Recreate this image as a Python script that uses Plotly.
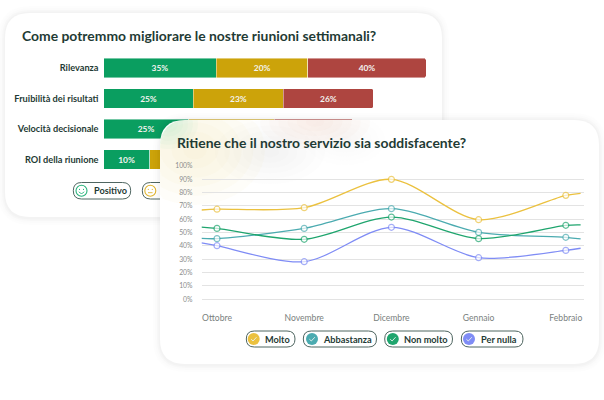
import numpy as np
import plotly.graph_objects as go

W, H = 604, 400

# ---- data: stacked bars (lengths; labels as printed)
questions = ["Rilevanza", "Fruibilità dei risultati", "Velocità decisionale", "ROI della riunione"]
positivo = [35.0, 27.9, 26.4, 14.3]
neutro = [28.4, 27.9, 26.6, 25.0]
negativo = [36.6, 27.9, 24.5, 30.0]
positivo_lab = ["35%", "25%", "25%", "10%"]
neutro_lab = ["20%", "23%", "", ""]
negativo_lab = ["40%", "26%", "", ""]

# ---- data: lines
months = ["Ottobre", "Novembre", "Dicembre", "Gennaio", "Febbraio"]
month_pos = [0, 1, 2, 3, 4]
edge_pos = [-0.178, 0, 1, 2, 3, 4, 4.17]
molto = [67.0, 67.6, 68.7, 90.0, 59.7, 78.0, 79.5]
abbastanza = [45.7, 45.5, 53.2, 68.0, 50.2, 46.5, 45.3]
non_molto = [54.2, 53.2, 45.0, 61.7, 45.5, 55.5, 55.8]
per_nulla = [42.3, 40.2, 28.2, 54.0, 31.2, 36.7, 38.3]
y_ticks = [0, 10, 20, 30, 40, 50, 60, 70, 80, 90, 100]

GREEN, YEL, RED = "#0A9E60", "#CCA30A", "#AE4540"
C_MOLTO, C_ABB, C_NON, C_PER = "#EBC13F", "#4BABB0", "#1FA56E", "#7F8CF5"
DARK = "#1F3B35"
FONT = "Lato"

# subplot frames in pixels
A = dict(x0=103.5, x1=426.0, y0=52.75, y1=174.75)
B = dict(x0=201.5, x1=584.0, y0=166.0, y1=299.3)


def dom(frame):
    return dict(
        x=[frame["x0"] / W, frame["x1"] / W],
        y=[1 - frame["y1"] / H, 1 - frame["y0"] / H],
    )


shapes = []

# layer "paper": below everything (card 1). layer "cover": pixel-scaled subplot x2/y2,
# stacked above the bars and below the line chart (card 2).
PAPER, COVER = "paper", "cover"


def cx_(layer, v):
    return v / W if layer == PAPER else v


def cy_(layer, v):
    return 1 - v / H if layer == PAPER else v


def refs(layer):
    return ("paper", "paper") if layer == PAPER else ("x2", "y2")


def path(layer, d, fill=None, line=None, lw=0, op=1):
    xr, yr = refs(layer)
    shapes.append(dict(type="path", path=d, xref=xr, yref=yr, layer="below",
                       fillcolor=fill if fill else "rgba(0,0,0,0)",
                       line=dict(color=line if line else "rgba(0,0,0,0)", width=lw), opacity=op))


def rr(layer, x0, y0, x1, y1, r):
    X = lambda v: f"{cx_(layer, v):.5f}"
    Y = lambda v: f"{cy_(layer, v):.5f}"
    return (f"M{X(x0+r)},{Y(y0)} L{X(x1-r)},{Y(y0)} Q{X(x1)},{Y(y0)} {X(x1)},{Y(y0+r)} "
            f"L{X(x1)},{Y(y1-r)} Q{X(x1)},{Y(y1)} {X(x1-r)},{Y(y1)} L{X(x0+r)},{Y(y1)} "
            f"Q{X(x0)},{Y(y1)} {X(x0)},{Y(y1-r)} L{X(x0)},{Y(y0+r)} Q{X(x0)},{Y(y0)} {X(x0+r)},{Y(y0)} Z")


def poly(layer, pts, close=False):
    s = "M" + " L".join(f"{cx_(layer, a):.5f},{cy_(layer, b):.5f}" for a, b in pts)
    return s + (" Z" if close else "")


def circle(layer, cx, cy, r, fill=None, line=None, lw=0):
    xr, yr = refs(layer)
    shapes.append(dict(type="circle", xref=xr, yref=yr, layer="below",
                       x0=cx_(layer, cx - r), x1=cx_(layer, cx + r),
                       y0=cy_(layer, cy + r), y1=cy_(layer, cy - r),
                       fillcolor=fill if fill else "rgba(0,0,0,0)",
                       line=dict(color=line if line else "rgba(0,0,0,0)", width=lw)))


def card(layer, x0, y0, x1, y1, r=25):
    for grow, op in ((7, .006), (5, .008), (3, .016), (1.5, .016)):
        path(layer, rr(layer, x0 - grow, y0 - grow, x1 + grow, y1 + grow + 1, r + grow), fill="#000000", op=op)
    path(layer, rr(layer, x0, y0, x1, y1, r), fill="#FFFFFF")


def blob(layer, cx, cy, rx, ry, color, box, steps=6, op=.05, corner=25):
    bx0, by0, bx1, by1 = box
    t = np.linspace(0, 2 * np.pi, 40, endpoint=False)
    for k in range(steps):
        s = 1 - k / steps
        px = np.clip(cx + rx * s * np.cos(t), bx0, bx1)
        py = np.clip(cy + ry * s * np.sin(t), by0, by1)
        pts = []
        for a, b in zip(px, py):
            if a < bx0 + corner and b < by0 + corner:
                dx, dy = a - (bx0 + corner), b - (by0 + corner)
                d = np.hypot(dx, dy)
                if d > corner:
                    a, b = bx0 + corner + dx * corner / d, by0 + corner + dy * corner / d
            pts.append((a, b))
        path(layer, poly(layer, pts, True), fill=color, op=op)


def pill(layer, x0, x1, y0, y1):
    path(layer, rr(layer, x0, y0, x1, y1, (y1 - y0) / 2), fill="#FFFFFF", line="#4F6661", lw=1)


def check(layer, cx, cy, color):
    circle(layer, cx, cy, 6, fill=color)
    path(layer, poly(layer, [(cx - 2.6, cy + .2), (cx - .7, cy + 2), (cx + 2.8, cy - 1.8)]), line="#E9F2EE", lw=.9)


def face(layer, cx, cy, color, smile=True):
    circle(layer, cx, cy, 5.5, line=color, lw=1.1)
    circle(layer, cx - 2, cy - 1.3, .55, fill=color)
    circle(layer, cx + 2, cy - 1.3, .55, fill=color)
    if smile:
        path(layer, poly(layer, [(cx - 2.6, cy + 1), (cx - 1.3, cy + 2.4), (cx, cy + 2.8), (cx + 1.3, cy + 2.4), (cx + 2.6, cy + 1)]), line=color, lw=.9)
    else:
        path(layer, poly(layer, [(cx - 2.3, cy + 2), (cx + 2.3, cy + 2)]), line=color, lw=.9)


# --- card 1
card(PAPER, 5, 13, 442, 217)
pill(PAPER, 73.3, 130.7, 182.5, 199)
face(PAPER, 81.5, 190.7, "#27B27A")
pill(PAPER, 142.3, 200, 182.5, 199)
face(PAPER, 150.3, 190.7, "#E0B52E", smile=False)

# --- card 2
card(COVER, 160, 120, 599, 364)
box2 = (160, 120, 599, 364)
blob(COVER, 195, 150, 70, 55, "#F7E7A8", box2, op=.07)
blob(COVER, 168, 124, 30, 25, "#A9E0C4", box2, op=.08)
blob(COVER, 315, 122, 55, 28, "#F2C4BC", box2, op=.06)
blob(COVER, 270, 152, 55, 32, "#C9CBD2", box2, op=.035)
blob(COVER, 345, 140, 40, 25, "#E8D8D0", box2, op=.03)

legend2 = [("Molto", C_MOLTO, 246.3, 295, 253.7, 264.7),
           ("Abbastanza", C_ABB, 303.3, 376.5, 312, 322),
           ("Non molto", C_NON, 384.7, 452.5, 392.8, 403.5),
           ("Per nulla", C_PER, 461.3, 523, 469, 480)]
for _, col, a, b, c, _t in legend2:
    pill(COVER, a, b, 331, 347)
    check(COVER, c, 339, col)

fig = go.Figure()

for vals, labs, col, name in ((positivo, positivo_lab, GREEN, "Positivo"),
                              (neutro, neutro_lab, YEL, "Neutro"),
                              (negativo, negativo_lab, RED, "Negativo")):
    fig.add_trace(go.Bar(
        y=questions, x=vals, name=name, orientation="h", text=labs,
        textposition="inside", insidetextanchor="middle", textangle=0,
        insidetextfont=dict(color="#F4F4F0", size=8.4, family=FONT, weight=700),
        marker=dict(color=col, line=dict(color="rgba(255,255,255,.55)", width=.8)),
        xaxis="x", yaxis="y", hoverinfo="skip", showlegend=False))

# empty trace that keeps the cover subplot alive between bars and lines
fig.add_trace(go.Scatter(x=[], y=[], xaxis="x2", yaxis="y2", showlegend=False, hoverinfo="skip"))

for vals, col, name in ((molto, C_MOLTO, "Molto"), (abbastanza, C_ABB, "Abbastanza"),
                        (non_molto, C_NON, "Non molto"), (per_nulla, C_PER, "Per nulla")):
    sizes = [0] + [6] * len(month_pos) + [0]
    fig.add_trace(go.Scatter(
        x=edge_pos, y=vals, name=name, mode="lines+markers",
        line=dict(color=col, width=1.3, shape="spline", smoothing=0.85),
        marker=dict(size=sizes, color="#FFFFFF", line=dict(color=col, width=1.2)),
        xaxis="x3", yaxis="y3", showlegend=False, cliponaxis=False))

annotations = [
    dict(text="Come potremmo migliorare le nostre riunioni settimanali?", x=19.5 / W, y=1 - 35 / H,
         font=dict(size=13.9, color=DARK, family=FONT, weight=700)),
    dict(text="Ritiene che il nostro servizio sia soddisfacente?", x=174.5 / W, y=1 - 143 / H,
         font=dict(size=13.9, color=DARK, family=FONT, weight=700)),
    dict(text="Positivo", x=91.5 / W, y=1 - 190.7 / H,
         font=dict(size=9.2, color=DARK, family=FONT, weight=700)),
]
for name, _c, _a, _b, _i, tx in legend2:
    annotations.append(dict(text=name, x=(tx - 1.5) / W, y=1 - 339 / H,
                            font=dict(size=9.2, color=DARK, family=FONT, weight=700)))
for a in annotations:
    a.update(xref="paper", yref="paper", xanchor="left", yanchor="middle", showarrow=False)

da, db = dom(A), dom(B)
fig.update_layout(
    width=W, height=H, margin=dict(l=0, r=0, t=0, b=0, pad=0, autoexpand=False),
    paper_bgcolor="#FFFFFF", plot_bgcolor="rgba(0,0,0,0)",
    barmode="stack", bargap=0.36, barcornerradius=2,
    font=dict(family=FONT),
    shapes=shapes, annotations=annotations,
    xaxis=dict(domain=da["x"], range=[0, 100], visible=False, fixedrange=True),
    yaxis=dict(domain=da["y"], autorange=False, range=[3.5, -0.5], type="category",
               categoryorder="array", categoryarray=questions,
               showgrid=False, zeroline=False, showline=False, ticks="", ticklabelstandoff=4,
               tickfont=dict(size=9.2, color=DARK, family=FONT, weight=700), fixedrange=True),
    xaxis2=dict(domain=[0, 1], range=[0, W], visible=False, fixedrange=True, anchor="y2"),
    yaxis2=dict(domain=[0, 1], range=[H, 0], visible=False, fixedrange=True, anchor="x2"),
    xaxis3=dict(domain=db["x"], range=[(B["x0"] - 217) / 87.2, (B["x1"] - 217) / 87.2],
                tickmode="array", tickvals=month_pos, ticktext=months, anchor="y3",
                showgrid=False, zeroline=False, showline=False, ticks="", ticklabelstandoff=12,
                tickfont=dict(size=8.6, color="#7A7F7E", family=FONT), fixedrange=True),
    yaxis3=dict(domain=db["y"], range=[0, 100], tickmode="array", tickvals=y_ticks,
                ticktext=[f"{v}%" for v in y_ticks], anchor="x3",
                showgrid=True, gridcolor="#E3E3E3", gridwidth=1, zeroline=True,
                zerolinecolor="#E3E3E3", zerolinewidth=1, showline=False, ticks="",
                ticklabelstandoff=8, tickfont=dict(size=6.8, color="#8A8D8C", family=FONT),
                fixedrange=True),
)

fig.write_html("out.html", config=dict(displayModeBar=False),
               post_script="document.body.style.margin='0';")
